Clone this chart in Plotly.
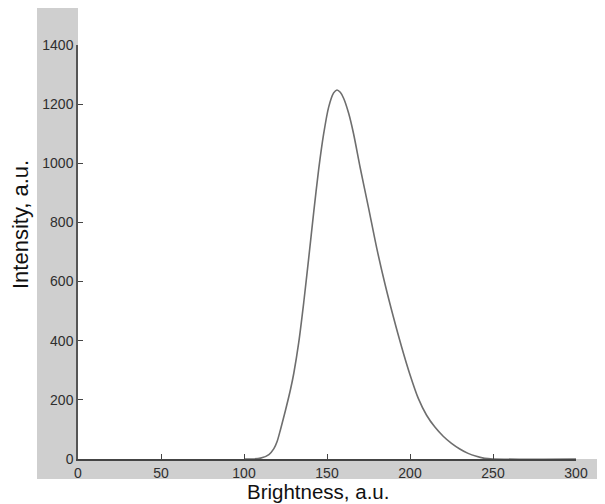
import plotly.graph_objects as go

brightness = [100, 105, 110, 115, 118, 120, 122, 125, 128, 130, 133, 136, 139, 142, 145, 148,
              151, 154, 156, 158, 160, 163, 166, 170, 175, 180, 185, 190, 195, 200, 205,
              210, 215, 220, 225, 230, 235, 240, 245, 250, 300]
intensity = [0, 0, 3, 15, 35, 60, 100, 165, 235, 290, 395, 530, 680, 835, 980, 1100,
             1190, 1238, 1248, 1240, 1220, 1170, 1100, 985, 850, 712, 590, 480, 378, 285, 205,
             148, 108, 77, 53, 34, 19, 9, 2, 0, 0]

x_ticks = [0, 50, 100, 150, 200, 250, 300]
y_ticks = [0, 200, 400, 600, 800, 1000, 1200, 1400]

fig = go.Figure()
fig.add_trace(go.Scatter(
    x=brightness, y=intensity, mode="lines",
    line=dict(color="#6e6e6e", width=1.6, shape="spline", smoothing=0.8),
    cliponaxis=False, showlegend=False, hoverinfo="skip",
))

gray = "#cfcfcf"
fig.add_shape(type="rect", xref="paper", yref="paper", x0=-0.0823, x1=0, y0=-0.0483, y1=1.0894,
              fillcolor=gray, line_width=0, layer="below")
fig.add_shape(type="rect", xref="paper", yref="paper", x0=-0.0823, x1=1.0582, y0=-0.0483, y1=0,
              fillcolor=gray, line_width=0, layer="below")

font_family = "Liberation Sans, Arial, sans-serif"
tickfont = dict(family=font_family, size=14, color="#2e2e2e")
fig.update_layout(
    width=597, height=496,
    margin=dict(l=70, r=29, t=37, b=45),
    paper_bgcolor="white", plot_bgcolor="rgba(0,0,0,0)",
    xaxis=dict(range=[0, 300], tickvals=x_ticks, ticktext=[str(v) for v in x_ticks],
               ticks="inside", ticklen=5, tickcolor="#444", tickwidth=1,
               showline=True, linecolor="#444", linewidth=2, showgrid=False, zeroline=False,
               tickfont=tickfont),
    yaxis=dict(range=[0, 1400], tickvals=y_ticks, ticktext=[str(v) for v in y_ticks],
               ticks="inside", ticklen=5, tickcolor="#444", tickwidth=1,
               showline=True, linecolor="#555", linewidth=1.5, showgrid=False, zeroline=False,
               tickfont=tickfont),
    annotations=[
        dict(text="Brightness, a.u.", xref="paper", yref="paper", x=0.482, y=-0.1087,
             xanchor="center", yanchor="bottom", showarrow=False, borderpad=0,
             font=dict(family=font_family, size=20.5, color="#111")),
        dict(text="Intensity, a.u.", xref="paper", yref="paper", x=-0.1165, y=0.5676,
             xanchor="center", yanchor="middle", showarrow=False, textangle=-90,
             font=dict(family=font_family, size=22, color="#111")),
    ],
)

fig.write_html("out.html")
